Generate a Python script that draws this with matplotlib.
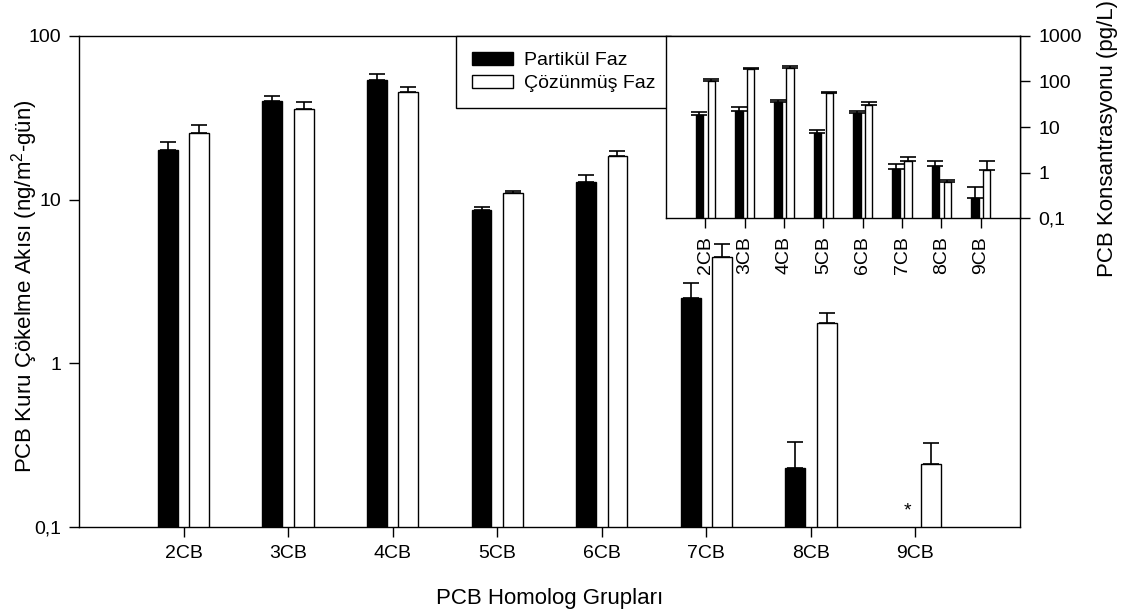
import numpy as np
import matplotlib
matplotlib.use("Agg")
import matplotlib.pyplot as plt
from matplotlib.ticker import FixedLocator, NullLocator

plt.rcParams['font.family'] = ['Liberation Sans', 'DejaVu Sans']
plt.rcParams['mathtext.fontset'] = 'custom'
plt.rcParams['mathtext.rm'] = 'Liberation Sans'
plt.rcParams['mathtext.default'] = 'regular'
plt.rcParams['axes.linewidth'] = 1.0

groups = ['2CB', '3CB', '4CB', '5CB', '6CB', '7CB', '8CB', '9CB']

# kuru cokelme akisi (ng/m2-gun), bar value and top of error bar
flux_part = [20.2, 40.2, 53.9, 8.65, 12.8, 2.50, 0.228, np.nan]
flux_part_top = [22.6, 42.7, 58.3, 9.07, 14.1, 3.09, 0.33, np.nan]
flux_diss = [25.5, 36.0, 45.8, 11.0, 18.5, 4.45, 1.77, 0.243]
flux_diss_top = [28.7, 39.6, 49.1, 11.3, 19.9, 5.37, 2.04, 0.327]

# konsantrasyon (pg/L), inset
conc_part = [18.5, 23.0, 34.9, 7.3, 20.0, 1.22, 1.37, 0.27]
conc_part_top = [21.1, 27.1, 39.3, 8.4, 23.0, 1.57, 1.76, 0.47]
conc_diss = [104, 193, 203, 55.9, 30.0, 1.76, 0.62, 1.16]
conc_diss_top = [113, 196, 217, 58.8, 34.9, 2.19, 0.70, 1.76]

lab_part = 'Partikül Faz'
lab_diss = 'Çözünmüş Faz'

x = np.arange(1, len(groups) + 1)
w = 0.19
off = 0.15


def pair_bars(ax, a, a_top, b, b_top):
    a = np.array(a, dtype=float)
    b = np.array(b, dtype=float)
    ha = ax.bar(x - off, a, w, color='black', edgecolor='black', linewidth=1, label=lab_part)
    hb = ax.bar(x + off, b, w, color='white', edgecolor='black', linewidth=1, label=lab_diss)
    for xs, v, t in [(x - off, a, a_top), (x + off, b, b_top)]:
        up = np.array(t, dtype=float) - v
        ax.errorbar(xs, v, yerr=[np.zeros_like(v), up], fmt='none', ecolor='black',
                    elinewidth=1.2, capsize=5.5, capthick=1.2)
    return ha, hb


fig = plt.figure(figsize=(11.25, 6.09), dpi=100)
ax = fig.add_axes([0.0702, 0.1346, 0.8365, 0.8063])
ax.set_yscale('log')
h1, h2 = pair_bars(ax, flux_part, flux_part_top, flux_diss, flux_diss_top)
ax.set_xlim(0, 9)
ax.set_ylim(0.1, 100)
ax.yaxis.set_major_locator(FixedLocator([0.1, 1, 10, 100]))
ax.yaxis.set_minor_locator(NullLocator())
ax.set_yticklabels(['0,1', '1', '10', '100'])
ax.set_xticks(x)
ax.set_xticklabels(groups)
ax.tick_params(direction='out', length=7, width=1, labelsize=14, pad=6)
ax.set_xlabel('PCB Homolog Grupları', fontsize=16, labelpad=19)
ax.set_ylabel('PCB Kuru Çökelme Akısı (ng/m$^2$-gün)', fontsize=16)
ax.yaxis.set_label_coords(-0.041, 0.49)

# asterisk where particle phase was not detected
for xi, v in zip(x, flux_part):
    if np.isnan(v):
        ax.text(xi - 0.08, 0.118, '*', ha='center', va='baseline', fontsize=14)

leg = ax.legend([h1, h2], [lab_part, lab_diss], loc='upper left',
                bbox_to_anchor=(0.4006, 1.0), borderaxespad=0, fontsize=14,
                fancybox=False, framealpha=1, edgecolor='black',
                handlelength=2.15, handleheight=0.67, handletextpad=0.55,
                borderpad=0.8, labelspacing=0.3)
leg.get_frame().set_linewidth(1)

# inset
axi = fig.add_axes([0.592, 0.642, 0.3147, 0.2989])
axi.set_yscale('log')
pair_bars(axi, conc_part, conc_part_top, conc_diss, conc_diss_top)
axi.set_xlim(0, 9)
axi.set_ylim(0.1, 1000)
axi.yaxis.tick_right()
axi.yaxis.set_major_locator(FixedLocator([0.1, 1, 10, 100, 1000]))
axi.yaxis.set_minor_locator(NullLocator())
axi.set_yticklabels(['0,1', '1', '10', '100', '1000'])
axi.set_xticks(x)
axi.set_xticklabels(groups, rotation=90)
axi.tick_params(direction='out', length=7, width=1, labelsize=14, pad=6)
fig.text(1107 / 1125, 1 - 277 / 609, 'PCB Konsantrasyonu (pg/L)', rotation=90,
         ha='center', va='bottom', fontsize=16)

fig.savefig('out.png', dpi=100)
